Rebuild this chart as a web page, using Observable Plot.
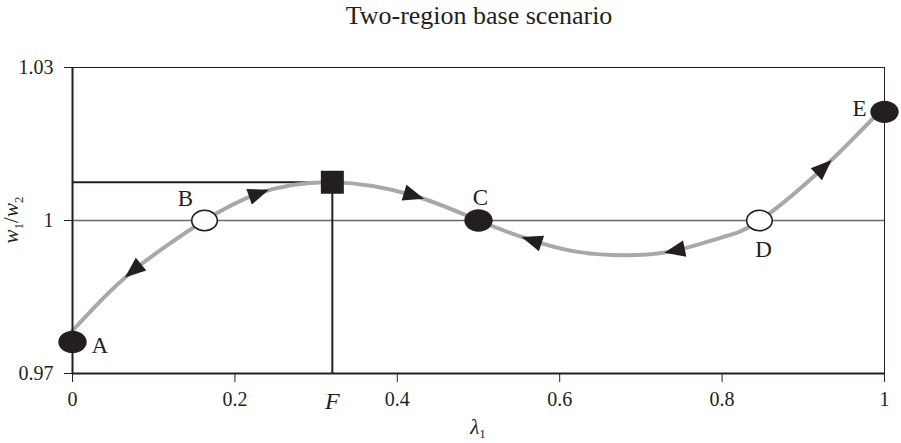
<!DOCTYPE html>
<html>
<head>
<meta charset="utf-8">
<script src="https://cdn.jsdelivr.net/npm/d3@7"></script>
<script src="https://cdn.jsdelivr.net/npm/@observablehq/plot@0.6"></script>
<style>
  html, body { margin: 0; padding: 0; background: #fff; }
  #chart { position: relative; width: 901px; height: 443px; font-family: "Liberation Serif", "DejaVu Serif", serif; color: #231f20; }
  #title { position: absolute; top: 1px; left: 0; width: 901px; box-sizing: border-box; padding-left: 57px;
           text-align: center; font-size: 26px; line-height: 30px; }
  #plot { position: absolute; top: 48px; left: 0; }
</style>
</head>
<body>
<div id="chart">
  <div id="title">Two-region base scenario</div>
  <div id="plot"></div>
</div>
<script>
// Relative wage w1/w2 as a function of the region-1 labour share λ1
const lambda = [0, 0.035, 0.075, 0.12, 0.1626, 0.229, 0.32, 0.42, 0.5, 0.566, 0.62, 0.68, 0.742, 0.8, 0.846, 0.925, 1];
const ratio  = [0.9784, 0.9843, 0.9902, 0.9955, 1.0, 1.0053, 1.0075, 1.0049, 1.0, 0.9961, 0.9939, 0.9932, 0.9941, 0.9967, 1.0, 1.0104, 1.0224];

// Equilibria (filled = stable, open = unstable)
const pointNames  = ["A", "B", "C", "D", "E"];
const pointLambda = [0, 0.1626, 0.5, 0.846, 1];
const pointRatio  = [0.9762, 1, 1, 1, 1.0213];
const pointStable = [true, false, true, false, true];

// Point F: the peak of the curve, marked with a square and guide lines
const fLambda = 0.32;
const fRatio  = 1.0075;

// Direction of motion along the curve (+1 = λ1 rising, -1 = λ1 falling)
const arrowLambda = [0.075, 0.229, 0.42, 0.566, 0.742, 0.925];
const arrowRatio  = [0.9902, 1.0053, 1.0049, 0.9961, 0.9941, 1.0104];
const arrowFlow   = [-1, 1, 1, -1, -1, 1];

// Axis ticks
const xTicks = [0, 0.2, 0.4, 0.6, 0.8, 1];
const xTickLabels = ["0", "0.2", "0.4", "0.6", "0.8", "1"];
const yTicks = [0.97, 1, 1.03];
const yTickLabels = ["0.97", "1", "1.03"];

const ink = "#231f20";
const serif = "'Liberation Serif', 'DejaVu Serif', serif";
const width = 901, height = 395;
const margin = {top: 19, right: 17, bottom: 70, left: 72};

const curveData = lambda.map((l, i) => ({lambda: l, ratio: ratio[i]}));
const points = pointNames.map((n, i) => ({name: n, lambda: pointLambda[i], ratio: pointRatio[i], stable: pointStable[i]}));

// Heading of the drawn spline at each arrow, measured in screen space
const xPix = d3.scaleLinear([0, 1], [margin.left, width - margin.right]);
const yPix = d3.scaleLinear([0.97, 1.03], [height - margin.bottom, margin.top]);
const svgNS = "http://www.w3.org/2000/svg";
const probeSvg = document.createElementNS(svgNS, "svg");
probeSvg.setAttribute("style", "position:absolute;visibility:hidden;width:0;height:0");
const probe = document.createElementNS(svgNS, "path");
probe.setAttribute("d", d3.line().curve(d3.curveNatural)(curveData.map(d => [xPix(d.lambda), yPix(d.ratio)])));
probeSvg.appendChild(probe);
document.body.appendChild(probeSvg);
const total = probe.getTotalLength();
function headingAt(px, py) {
  let best = 0, bestD = Infinity;
  for (let s = 0; s <= total; s += 0.5) {
    const p = probe.getPointAtLength(s);
    const d = (p.x - px) ** 2 + (p.y - py) ** 2;
    if (d < bestD) { bestD = d; best = s; }
  }
  const a = probe.getPointAtLength(Math.max(0, best - 2));
  const b = probe.getPointAtLength(Math.min(total, best + 2));
  return Math.atan2(b.y - a.y, b.x - a.x) * 180 / Math.PI;
}
const arrows = arrowLambda.map((l, i) => {
  const h = headingAt(xPix(l), yPix(arrowRatio[i]));
  return {lambda: l, ratio: arrowRatio[i], angle: arrowFlow[i] > 0 ? h : h + 180};
});
probeSvg.remove();

// Custom marker shapes
const arrowHead = {draw(ctx, size) {
  const r = Math.sqrt(size / Math.PI);
  ctx.moveTo(r, 0); ctx.lineTo(-0.9 * r, 0.75 * r); ctx.lineTo(-0.9 * r, -0.75 * r); ctx.closePath();
}};
const ellipse = (aspect) => ({draw(ctx, size) {
  const rx = Math.sqrt(size / Math.PI), ry = rx * aspect, k = 0.5523;
  ctx.moveTo(rx, 0);
  ctx.bezierCurveTo(rx, k * ry, k * rx, ry, 0, ry);
  ctx.bezierCurveTo(-k * rx, ry, -rx, k * ry, -rx, 0);
  ctx.bezierCurveTo(-rx, -k * ry, -k * rx, -ry, 0, -ry);
  ctx.bezierCurveTo(k * rx, -ry, rx, -k * ry, rx, 0);
  ctx.closePath();
}});
const square = {draw(ctx, size) {
  const h = Math.sqrt(size / Math.PI);
  ctx.rect(-h, -h, 2 * h, 2 * h);
}};

// Where each equilibrium label sits relative to its marker
const labelPlacement = {
  A: {dx: 19, dy: 11, textAnchor: "start"},
  B: {dx: -19, dy: -15, textAnchor: "middle"},
  C: {dx: 2, dy: -16, textAnchor: "middle"},
  D: {dx: 4, dy: 36, textAnchor: "middle"},
  E: {dx: -18, dy: 4, textAnchor: "end"}
};

const chart = Plot.plot({
  width, height,
  marginTop: margin.top, marginRight: margin.right, marginBottom: margin.bottom, marginLeft: margin.left,
  style: {fontFamily: serif, fontSize: "20px", color: ink, background: "white", overflow: "visible"},
  x: {domain: [0, 1]},
  y: {domain: [0.97, 1.03]},
  marks: [
    Plot.ruleY([1], {stroke: "#6a6a6a", strokeWidth: 1.3}),
    Plot.ruleY([1.03], {stroke: ink, strokeWidth: 1}),
    Plot.ruleX([1], {stroke: ink, strokeWidth: 1}),
    Plot.ruleY([{y: fRatio, x1: 0, x2: fLambda}], {y: "y", x1: "x1", x2: "x2", stroke: ink, strokeWidth: 2}),
    Plot.ruleX([{x: fLambda, y1: 0.97, y2: fRatio}], {x: "x", y1: "y1", y2: "y2", stroke: ink, strokeWidth: 2}),
    Plot.line(curveData, {x: "lambda", y: "ratio", curve: "natural", stroke: "#a8a8a8", strokeWidth: 4}),
    Plot.ruleX([0], {stroke: ink, strokeWidth: 2}),
    Plot.ruleY([0.97], {stroke: ink, strokeWidth: 2}),
    Plot.axisX({ticks: xTicks, tickFormat: d => xTickLabels[xTicks.indexOf(d)], tickSize: 9, tickPadding: 9,
                stroke: ink, fill: ink, fontSize: 20, label: null}),
    Plot.axisY({ticks: yTicks, tickFormat: d => yTickLabels[yTicks.indexOf(d)], tickSize: 8, tickPadding: 11,
                stroke: ink, fill: ink, fontSize: 20, label: null}),
    Plot.text([{lambda: fLambda, y: 0.97, t: "F"}], {x: "lambda", y: "y", text: "t", dy: 35, lineAnchor: "bottom",
                fontSize: 24, fontStyle: "italic", fill: ink}),
    Plot.dot(arrows, {x: "lambda", y: "ratio", rotate: "angle", symbol: arrowHead, r: 11, fill: ink, stroke: "none"}),
    Plot.dot(points.filter(d => d.stable), {x: "lambda", y: "ratio", symbol: ellipse(0.79), r: 14.2, fill: ink, stroke: "none"}),
    Plot.dot(points.filter(d => !d.stable), {x: "lambda", y: "ratio", symbol: ellipse(0.8), r: 12.8, fill: "white", stroke: ink, strokeWidth: 1.6}),
    Plot.dot([{lambda: fLambda, ratio: fRatio}], {x: "lambda", y: "ratio", symbol: square, r: 11.5, fill: ink, stroke: "none"}),
    ...pointNames.map(n => Plot.text(points.filter(d => d.name === n), {
      x: "lambda", y: "ratio", text: "name", fill: ink, fontSize: 23, lineAnchor: "bottom",
      ...labelPlacement[n]
    }))
  ]
});

// Axis titles with subscripts
const svg = d3.select(chart);
const xt = svg.append("text")
  .attr("x", (margin.left + width - margin.right) / 2).attr("y", 386)
  .attr("text-anchor", "middle").attr("fill", ink).attr("font-size", 21)
  .attr("font-family", serif);
xt.append("tspan").attr("font-style", "italic").text("λ");
xt.append("tspan").attr("font-size", 13).attr("dy", 4).text("1");

const yt = svg.append("text")
  .attr("transform", `translate(18, ${(margin.top + height - margin.bottom) / 2}) rotate(-90)`)
  .attr("text-anchor", "middle").attr("fill", ink).attr("font-size", 21)
  .attr("font-family", serif);
yt.append("tspan").attr("font-style", "italic").text("w");
yt.append("tspan").attr("font-size", 13).attr("dy", 5).text("1");
yt.append("tspan").attr("dy", -5).text("/");
yt.append("tspan").attr("font-style", "italic").text("w");
yt.append("tspan").attr("font-size", 13).attr("dy", 5).text("2");

document.getElementById("plot").appendChild(chart);
</script>
</body>
</html>
